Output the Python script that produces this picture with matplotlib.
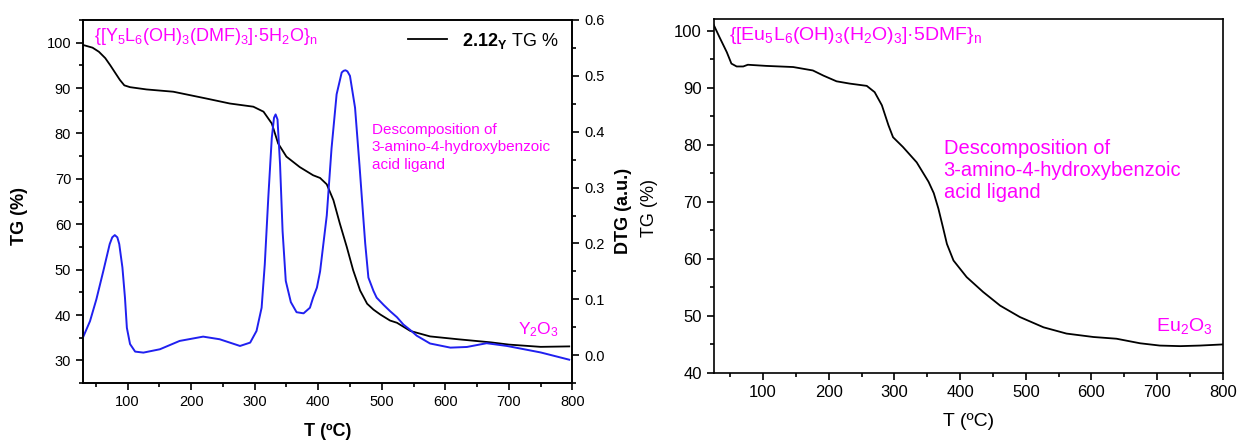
import numpy as np
import matplotlib.pyplot as plt
from matplotlib.ticker import MultipleLocator

plt.rcParams['font.family'] = ['Liberation Sans', 'DejaVu Sans']
plt.rcParams['mathtext.fontset'] = 'custom'
plt.rcParams['mathtext.rm'] = 'Liberation Sans'
plt.rcParams['mathtext.it'] = 'Liberation Sans'
plt.rcParams['mathtext.bf'] = 'Liberation Sans:bold'

MAG = '#ff00ff'

# Y compound: TG (%) against temperature
t_y = [30, 45, 55, 65, 73, 80, 88, 95, 104, 130, 172, 224, 261, 298, 314, 327, 337, 350,
       371, 392, 403, 413.5, 424, 434, 445, 455, 466, 477, 487, 498, 513, 524, 545, 576, 618,
       671, 700, 750, 795]
tg_y = [99.5, 98.9, 98.0, 96.6, 95.0, 93.5, 91.8, 90.6, 90.2, 89.7, 89.2, 87.7, 86.6, 85.9,
        84.8, 82.2, 77.8, 74.9, 72.6, 70.8, 70.2, 68.8, 65.3, 60.2, 55.0, 49.9, 45.4, 42.5,
        41.2, 40.1, 38.8, 38.3, 36.5, 35.3, 34.7, 34.0, 33.5, 33.0, 33.1]

# Y compound: DTG (a.u.) against temperature
t_dtg = [30, 41, 51, 62, 72, 76, 80, 84, 87, 92, 96, 99, 104, 112, 125, 151, 182, 219, 245,
         277, 293, 303, 311, 316, 321.5, 327, 330.5, 333, 336, 340, 344, 349, 357, 366, 377,
         387, 392, 398, 403, 413.5, 421, 429, 437, 440, 443, 446, 450, 458, 465, 471, 474,
         479, 487, 492, 503, 513, 524, 534, 545, 555, 576, 608, 634, 665, 697, 750, 795]
dtg_y = [0.032, 0.061, 0.100, 0.151, 0.199, 0.211, 0.215, 0.211, 0.199, 0.157, 0.103, 0.049,
         0.020, 0.0065, 0.0047, 0.0107, 0.0256, 0.0333, 0.0286, 0.0166, 0.0226, 0.0435, 0.085,
         0.163, 0.282, 0.389, 0.425, 0.431, 0.422, 0.342, 0.222, 0.133, 0.095, 0.077, 0.075,
         0.085, 0.103, 0.121, 0.150, 0.250, 0.370, 0.467, 0.506, 0.509, 0.510, 0.508, 0.500,
         0.443, 0.340, 0.246, 0.200, 0.139, 0.115, 0.103, 0.090, 0.079, 0.068, 0.055, 0.045,
         0.035, 0.021, 0.0136, 0.0148, 0.0215, 0.0166, 0.005, -0.008]

# Eu compound: TG (%) against temperature
t_eu = [25, 34, 45, 52, 60, 70, 77, 105, 146, 176, 192, 212, 232, 258, 270, 281, 291, 298,
        313, 334, 352, 360, 367, 374, 380, 390, 410, 435, 461, 491, 527, 562, 603, 638, 674,
        704, 735, 765, 800]
tg_eu = [101.0, 98.8, 96.2, 94.2, 93.7, 93.7, 94.0, 93.8, 93.6, 93.0, 92.1, 91.1, 90.7,
         90.3, 89.2, 86.9, 83.4, 81.3, 79.6, 76.9, 73.5, 71.5, 68.8, 65.5, 62.6, 59.7, 56.8,
         54.2, 51.8, 49.8, 48.0, 46.9, 46.3, 46.0, 45.2, 44.8, 44.7, 44.8, 45.0]

fig = plt.figure(figsize=(12.39, 4.44), dpi=100)

# ---- left panel: Y compound
ax1 = fig.add_axes([0.067, 0.137, 0.395, 0.818])
ax1.plot(t_y, tg_y, color='black', lw=1.3, label=r'$\mathbf{2.12_Y}$ TG %')
ax1.set_xlim(30, 800)
ax1.set_ylim(25, 105)
ax1.xaxis.set_major_locator(MultipleLocator(100))
ax1.xaxis.set_minor_locator(MultipleLocator(50))
ax1.yaxis.set_minor_locator(MultipleLocator(5))
ax1.set_yticks(np.arange(30, 101, 10))
ax1.tick_params(labelsize=10.5, direction='out', length=5, width=1.2)
ax1.tick_params(which='minor', length=3, width=1.2)
ax1.set_xlabel('T (ºC)', fontsize=13, fontweight='bold')
ax1.set_ylabel('TG (%)', fontsize=13, fontweight='bold')
ax1.yaxis.set_label_coords(-0.112, 0.46)
ax1.xaxis.set_label_coords(0.5, -0.11)
ax1.legend(loc='upper right', frameon=False, fontsize=13, handlelength=2.2,
           bbox_to_anchor=(0.993, 1.0), borderaxespad=0.2)

ax2 = ax1.twinx()
ax2.plot(t_dtg, dtg_y, color='#2020f0', lw=1.4)
ax2.set_ylim(-0.05, 0.6)
ax2.yaxis.set_major_locator(MultipleLocator(0.1))
ax2.yaxis.set_minor_locator(MultipleLocator(0.05))
ax2.tick_params(labelsize=10.5, direction='out', length=5, width=1.2)
ax2.tick_params(which='minor', length=3, width=1.2)
ax2.set_ylabel('DTG (a.u.)', fontsize=13, fontweight='bold')
ax2.yaxis.set_label_coords(1.088, 0.474)

for ax in (ax1, ax2):
    for s in ax.spines.values():
        s.set_linewidth(1.2)

ax1.text(48, 101.3, '{[Y$_5$L$_6$(OH)$_3$(DMF)$_3$]·5H$_2$O}$_n$', color=MAG,
         fontsize=13, va='center', ha='left')
ax1.text(484, 82.4, 'Descomposition of\n3-amino-4-hydroxybenzoic\nacid ligand', color=MAG,
         fontsize=11, va='top', ha='left', linespacing=1.35)
ax1.text(714, 36.8, 'Y$_2$O$_3$', color=MAG, fontsize=12.5, va='center', ha='left')

# ---- right panel: Eu compound
ax3 = fig.add_axes([0.576, 0.160, 0.411, 0.797])
ax3.plot(t_eu, tg_eu, color='black', lw=1.3)
ax3.set_xlim(25, 800)
ax3.set_ylim(40, 102)
ax3.xaxis.set_major_locator(MultipleLocator(100))
ax3.xaxis.set_minor_locator(MultipleLocator(50))
ax3.yaxis.set_major_locator(MultipleLocator(10))
ax3.yaxis.set_minor_locator(MultipleLocator(5))
ax3.tick_params(labelsize=12, direction='out', length=5, width=1.2)
ax3.tick_params(which='minor', length=3, width=1.2)
for s in ax3.spines.values():
    s.set_linewidth(1.2)
ax3.set_xlabel('T (ºC)', fontsize=14)
ax3.set_ylabel('TG (%)', fontsize=13)
ax3.yaxis.set_label_coords(-0.110, 0.466)
ax3.xaxis.set_label_coords(0.5, -0.113)

ax3.text(49, 99.1, '{[Eu$_5$L$_6$(OH)$_3$(H$_2$O)$_3$]·5DMF}$_n$', color=MAG,
         fontsize=14, va='center', ha='left')
ax3.text(375, 81.0, 'Descomposition of\n3-amino-4-hydroxybenzoic\nacid ligand', color=MAG,
         fontsize=14.5, va='top', ha='left', linespacing=1.2)
ax3.text(698, 48.3, 'Eu$_2$O$_3$', color=MAG, fontsize=14, va='center', ha='left')

plt.savefig('out.png', dpi=100)
